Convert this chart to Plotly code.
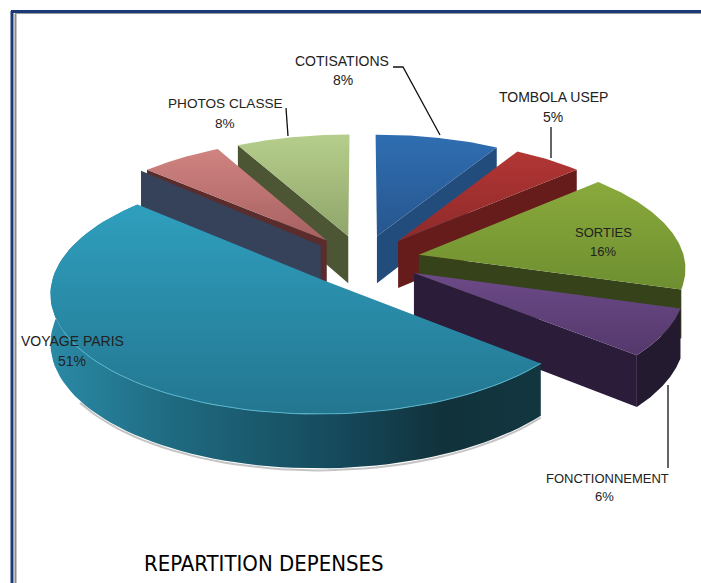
import math
import plotly.graph_objects as go

slices = ["COTISATIONS", "TOMBOLA USEP", "SORTIES", "FONCTIONNEMENT", "VOYAGE PARIS", "(sans nom)", "PHOTOS CLASSE"]
values = [8.4, 4.8, 16.5, 6.5, 50.5, 5.6, 7.7]
shown_pct = ["8%", "5%", "16%", "6%", "51%", "", "8%"]
top_colors = [("#2f6eb2", "#27568e"), ("#b23634", "#8e2a2a"), ("#8aa93c", "#6e8f30"),
              ("#6c4a88", "#54386b"), ("#2f9fbe", "#237690"), ("#d08482", "#a66060"),
              ("#b6ce8c", "#8fa56a")]
wall_colors = ["#214c7c", "#661c1a", "#35421a", "#2b1c3a", "#13404e", "#36415a", "#4c5634"]

CX, CY, RX, RY, P, PULL, THICK = 362, 260.5, 266, 116.4, 0.1, 0.22, 48


def proj(u, v, drop=0.0):
    w = 1 + P * v
    return CX + RX * u / w, CY - RY * v / w + drop * THICK / w


total = sum(values)
bounds = [0]
for val in values:
    bounds.append(bounds[-1] + val / total * 2 * math.pi)


def geom(i):
    a0, a1 = bounds[i], bounds[i + 1]
    m = (a0 + a1) / 2
    ou, ov = PULL * math.sin(m), PULL * math.cos(m)
    return a0, a1, ou, ov


def arc(i, a=None, b=None, drop=0.0, n=80):
    a0, a1, ou, ov = geom(i)
    a = a0 if a is None else a
    b = a1 if b is None else b
    pts = [proj(ou + math.sin(a + (b - a) * k / n), ov + math.cos(a + (b - a) * k / n), drop) for k in range(n + 1)]
    return pts


def apex(i, drop=0.0):
    _, _, ou, ov = geom(i)
    return proj(ou, ov, drop)


fig = go.Figure()


def poly(pts, color=None, grad=None):
    xs = [p[0] for p in pts] + [pts[0][0]]
    ys = [p[1] for p in pts] + [pts[0][1]]
    kw = dict(x=xs, y=ys, mode="lines", line=dict(width=0), fill="toself", hoverinfo="skip", showlegend=False)
    if grad:
        kw["fillgradient"] = grad
    else:
        kw["fillcolor"] = color
    fig.add_trace(go.Scatter(**kw))


def vgrad(c0, c1):
    return dict(type="vertical", colorscale=[[0, c0], [1, c1]])


def edge_wall(i, at_end, color):
    a0, a1, _, _ = geom(i)
    a = a1 if at_end else a0
    p = arc(i, a, a, n=1)[0]
    q = arc(i, a, a, drop=1, n=1)[0]
    poly([apex(i), p, q, apex(i, 1)], color)


def top(i):
    c0, c1 = top_colors[i]
    poly([apex(i)] + arc(i), grad=vgrad(c1, c0))


# back to front
# photos classe
edge_wall(6, False, wall_colors[6])
top(6)
# unnamed pink slice with navy wall
edge_wall(5, False, "#5a2c2c")
a0 = geom(5)[0]
p0 = arc(5, a0, a0, n=1)[0]
q0 = arc(5, a0, a0, drop=1, n=1)[0]
ap = apex(5)
aq = apex(5, 1)
poly([(ap[0] - 6, ap[1] + 5), (p0[0] - 6, p0[1] + 1), (q0[0] - 6, q0[1]), (aq[0] - 6, aq[1] - 2)], wall_colors[5])
top(5)
# cotisations
edge_wall(0, True, wall_colors[0])
top(0)
# tombola
edge_wall(1, True, wall_colors[1])
top(1)
# sorties
edge_wall(2, True, wall_colors[2])
top(2)
# fonctionnement
outer = arc(3)
outer_low = arc(3, drop=1)
poly(outer + outer_low[::-1], "#241a30")
edge_wall(3, True, wall_colors[3])
top(3)
# voyage paris
outer = arc(4)
outer_low = arc(4, drop=1)
shadow = [(x, y + 2) for x, y in outer_low if y > 400]
fig.add_trace(go.Scatter(x=[p[0] for p in shadow], y=[p[1] for p in shadow], mode="lines",
                         line=dict(color="#c4c4c4", width=2), hoverinfo="skip", showlegend=False))
poly(outer + outer_low[::-1], grad=dict(type="horizontal", colorscale=[[0, "#2a8aa6"], [0.25, "#1f6a80"],
                                                                        [0.6, "#15485a"], [0.8, "#11323b"], [1, "#123640"]]))
top(4)
front = [p for p in outer if p[1] > 330]
fig.add_trace(go.Scatter(x=[p[0] for p in front], y=[p[1] for p in front], mode="lines",
                         line=dict(color="#58b4cc", width=1), hoverinfo="skip", showlegend=False))

FONT = "Liberation Sans"
labels_xy = [(342, 61, 343, 80), (553, 97, 553, 117), (603, 232, 603, 251), (607, 478, 604, 496),
             (72, 341, 72, 361), None, (225, 103, 225, 123)]
label_sizes = [14, 14, 13, 13, 14, 13, 13.6]
ann = []
for name, pct, xy, sz in zip(slices, shown_pct, labels_xy, label_sizes):
    if xy is None:
        continue
    ann.append(dict(x=xy[0], y=xy[1], text=name, showarrow=False, font=dict(family=FONT, size=sz, color="#222222")))
    ann.append(dict(x=xy[2], y=xy[3], text=pct, showarrow=False, font=dict(family=FONT, size=sz, color="#222222")))
ann.append(dict(x=264, y=563, text="REPARTITION DEPENSES", showarrow=False,
                font=dict(family="DejaVu Sans Condensed", size=22, color="#000000")))

leaders = [[(393, 67), (403, 67), (440, 135)], [(551, 127), (551, 158)], [(286, 108), (288, 136)], [(668, 385), (668, 468)]]
for ln in leaders:
    fig.add_trace(go.Scatter(x=[p[0] for p in ln], y=[p[1] for p in ln], mode="lines",
                             line=dict(color="#111111", width=1.3), hoverinfo="skip", showlegend=False))

shapes = [
    dict(type="line", x0=11, y0=11.5, x1=701, y1=11.5, line=dict(color="#1c3a78", width=3), layer="below"),
    dict(type="line", x0=12, y0=11, x1=12, y1=583, line=dict(color="#1c3a78", width=3), layer="below"),
    dict(type="line", x0=15.5, y0=14, x1=15.5, y1=583, line=dict(color="#8a8a8a", width=2), layer="below"),
    dict(type="line", x0=15, y0=13.5, x1=701, y1=13.5, line=dict(color="#9a9a9a", width=1), layer="below"),
]
fig.update_layout(width=701, height=583, margin=dict(l=0, r=0, t=0, b=0), paper_bgcolor="white", plot_bgcolor="white",
                  xaxis=dict(range=[0, 701], visible=False, fixedrange=True),
                  yaxis=dict(range=[583, 0], visible=False, fixedrange=True),
                  annotations=ann, shapes=shapes, showlegend=False)
fig.write_html("out.html", post_script="document.body.style.margin='0';document.body.style.overflow='hidden';",
               config={"displayModeBar": False})
